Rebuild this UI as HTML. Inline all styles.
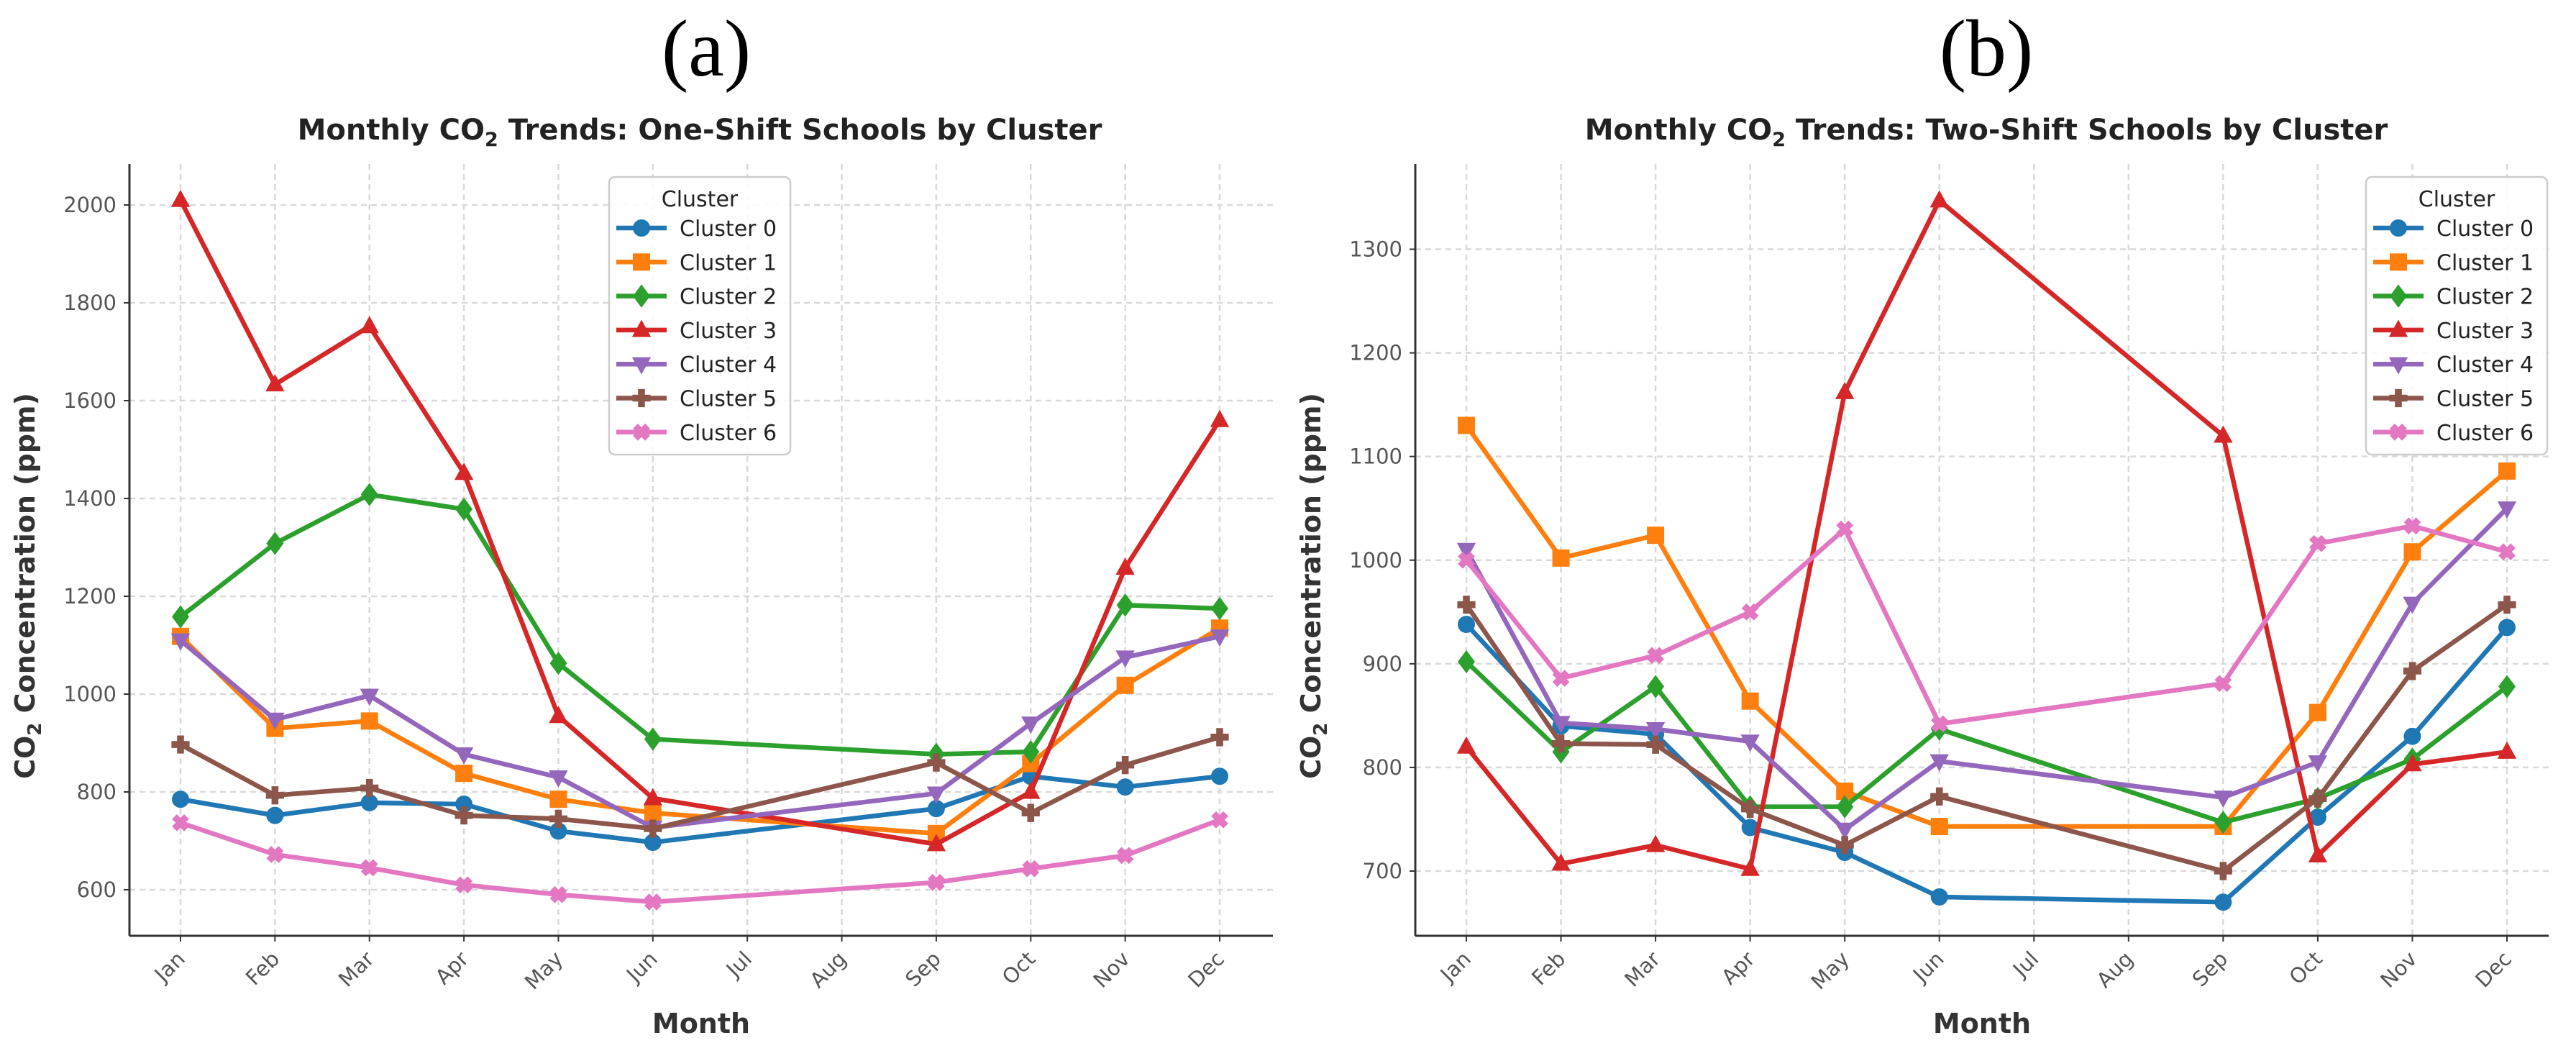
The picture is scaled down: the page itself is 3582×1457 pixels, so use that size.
<!DOCTYPE html>
<html><head><meta charset="utf-8"><style>
html,body{margin:0;padding:0;background:#fff}
svg{display:block;font-family:"DejaVu Sans","Liberation Sans",sans-serif}
</style></head><body>
<svg id="fig" width="3582" height="1457" viewBox="0 0 3582 1457" xmlns="http://www.w3.org/2000/svg">
<text x="982" y="105" font-family="Liberation Serif,serif" font-size="112" text-anchor="middle">(a)</text>
<text x="2762" y="105" font-family="Liberation Serif,serif" font-size="112" text-anchor="middle">(b)</text>
</svg>
<script>
const months=["Jan","Feb","Mar","Apr","May","Jun","Jul","Aug","Sep","Oct","Nov","Dec"];
const clusterNames=["Cluster 0","Cluster 1","Cluster 2","Cluster 3","Cluster 4","Cluster 5","Cluster 6"];
const colors=["#1f77b4","#ff7f0e","#2ca02c","#d62728","#9467bd","#8c564b","#e377c2"];
const markers=["circle","square","diamond","tri-up","tri-down","plus","x"];
const oneC0=[785,752,778,775,720,697,null,null,766,832,810,832];
const oneC1=[1118,930,945,838,785,757,null,null,715,858,1018,1135];
const oneC2=[1158,1308,1408,1378,1063,908,null,null,877,882,1182,1175];
const oneC3=[2010,1633,1752,1452,955,787,null,null,693,800,1258,1560];
const oneC4=[1110,948,997,877,830,727,null,null,797,940,1075,1118];
const oneC5=[897,793,808,752,745,725,null,null,860,757,855,912];
const oneC6=[737,672,645,610,590,575,null,null,615,643,670,743];
const twoC0=[938,840,832,742,718,675,null,null,670,752,830,935];
const twoC1=[1130,1002,1024,864,777,743,null,null,743,853,1008,1086];
const twoC2=[902,815,878,762,762,837,null,null,747,770,808,878];
const twoC3=[820,707,725,702,1162,1347,null,null,1120,715,803,815];
const twoC4=[1010,843,837,825,740,806,null,null,771,805,958,1050];
const twoC5=[957,823,822,760,725,772,null,null,700,770,893,957];
const twoC6=[1000,886,908,950,1030,842,null,null,881,1016,1033,1008];
const oneTicks=[600,800,1000,1200,1400,1600,1800,2000];
const twoTicks=[700,800,900,1000,1100,1200,1300];

const NS="http://www.w3.org/2000/svg";
const svg=document.getElementById('fig');
function mk(tag,attrs,parent){const e=document.createElementNS(NS,tag);for(const k in attrs)e.setAttribute(k,attrs[k]);(parent||svg).appendChild(e);return e;}

function marker(g,type,x,y,c,s){
  let e;
  if(type==="circle")e=mk('circle',{cx:x,cy:y,r:s},g);
  else if(type==="square")e=mk('rect',{x:x-s,y:y-s,width:2*s,height:2*s},g);
  else if(type==="diamond")e=mk('polygon',{points:`${x},${y-s*1.35} ${x+s},${y} ${x},${y+s*1.35} ${x-s},${y}`},g);
  else if(type==="tri-up")e=mk('polygon',{points:`${x},${y-s*1.2} ${x+s*1.1},${y+s*0.8} ${x-s*1.1},${y+s*0.8}`},g);
  else if(type==="tri-down")e=mk('polygon',{points:`${x},${y+s*1.2} ${x+s*1.1},${y-s*0.8} ${x-s*1.1},${y-s*0.8}`},g);
  else if(type==="plus"){const a=s*0.4,b=s*1.05;e=mk('polygon',{points:`${x-a},${y-b} ${x+a},${y-b} ${x+a},${y-a} ${x+b},${y-a} ${x+b},${y+a} ${x+a},${y+a} ${x+a},${y+b} ${x-a},${y+b} ${x-a},${y+a} ${x-b},${y+a} ${x-b},${y-a} ${x-a},${y-a}`},g);}
  else {const a=s*0.4,b=s*1.0;e=mk('g',{transform:`translate(${x},${y}) rotate(45)`},g);
    mk('polygon',{points:`${-a},${-b} ${a},${-b} ${a},${-a} ${b},${-a} ${b},${a} ${a},${a} ${a},${b} ${-a},${b} ${-a},${a} ${-b},${a} ${-b},${-a} ${-a},${-a}`,fill:c},e);}
  e.setAttribute('fill',c);
  return e;
}

function panel(cfg){
  const g=mk('g',{});
  
  
  const xs=i=>cfg.x0+(cfg.x1-cfg.x0)*i/11;
  const ys=v=>cfg.yA+(v-cfg.vA)*(cfg.yB-cfg.yA)/(cfg.vB-cfg.vA);
  // grid
  months.forEach((m,i)=>{const l=mk('line',{x1:xs(i),x2:xs(i),y1:cfg.top,y2:cfg.bottom,stroke:"#d9d9d9","stroke-width":2.5,"stroke-dasharray":"8 6"},g);
    });
  cfg.ticks.forEach(v=>{const l=mk('line',{x1:cfg.left,x2:cfg.right,y1:ys(v),y2:ys(v),stroke:"#d9d9d9","stroke-width":2.5,"stroke-dasharray":"8 6"},g);
    });
  // axes
  const ya=mk('line',{x1:cfg.left,x2:cfg.left,y1:cfg.top,y2:cfg.bottom,stroke:"#333","stroke-width":3},g);
  
  const xa=mk('line',{x1:cfg.left,x2:cfg.right,y1:cfg.bottom,y2:cfg.bottom,stroke:"#333","stroke-width":3},g);
  
  cfg.ticks.forEach(v=>{mk('line',{x1:cfg.left-8,x2:cfg.left,y1:ys(v),y2:ys(v),stroke:"#333","stroke-width":2},g);
    const t=mk('text',{x:cfg.left-18,y:ys(v)+10,"text-anchor":"end","font-size":29,fill:"#555"},g);t.textContent=v;
    });
  months.forEach((m,i)=>{mk('line',{x1:xs(i),x2:xs(i),y1:cfg.bottom,y2:cfg.bottom+8,stroke:"#333","stroke-width":2},g);
    const t=mk('text',{x:xs(i)+8,y:cfg.bottom+34,"text-anchor":"end","font-size":29,fill:"#555",transform:`rotate(-45 ${xs(i)+8} ${cfg.bottom+34})`},g);t.textContent=m;
    });
  // titles
  const tt=mk('text',{x:cfg.tx,y:194,"text-anchor":"middle","font-size":40,"font-weight":"bold",fill:"#222"},g);
  tt.innerHTML=`Monthly CO<tspan font-size="27" dy="9">2</tspan><tspan dy="-9"> Trends: ${cfg.title}</tspan>`;
  
  const xl=mk('text',{x:(cfg.left+cfg.right)/2,y:1436,"text-anchor":"middle","font-size":38,"font-weight":"bold",fill:"#333"},g);xl.textContent="Month";
  
  const yx=cfg.left-132,yy=(cfg.top+cfg.bottom)/2+50;
  const yl=mk('text',{x:yx,y:yy,"text-anchor":"middle","font-size":38,"font-weight":"bold",fill:"#333",transform:`rotate(-90 ${yx} ${yy})`},g);
  yl.innerHTML=`CO<tspan font-size="26" dy="9">2</tspan><tspan dy="-9"> Concentration (ppm)</tspan>`;
  
  // series
  cfg.series.forEach((arr,k)=>{
    const sg=mk('g',{},g);
    
    
    const pts=[];arr.forEach((v,i)=>{if(v!==null)pts.push([xs(i),ys(v)]);});
    mk('polyline',{points:pts.map(p=>p.join(',')).join(' '),fill:"none",stroke:colors[k],"stroke-width":6.5,"stroke-linejoin":"round"},sg);
    pts.forEach(p=>{const m=marker(sg,markers[k],p[0],p[1],colors[k],12);
      });
  });
  // legend
  const lg=mk('g',{},g);
  
  
  mk('rect',{x:cfg.lx,y:246,width:252,height:386,rx:8,fill:"#fff","fill-opacity":0.85,stroke:"#ccc","stroke-width":2.5},lg);
  const lt=mk('text',{x:cfg.lx+126,y:287,"text-anchor":"middle","font-size":30,fill:"#222"},lg);lt.textContent="Cluster";
  
  clusterNames.forEach((n,k)=>{
    const y=317+k*47.3;
    const e=mk('g',{},lg);
    
    
    mk('line',{x1:cfg.lx+10,x2:cfg.lx+80,y1:y,y2:y,stroke:colors[k],"stroke-width":6.5},e);
    marker(e,markers[k],cfg.lx+45,y,colors[k],12);
    const t=mk('text',{x:cfg.lx+98,y:y+11,"font-size":30,fill:"#222"},e);t.textContent=n;
  });
}
panel({name:'chart-one-shift',title:'One-Shift Schools by Cluster',tx:973,left:180,right:1770,top:228,bottom:1301,x0:251,x1:1696,vA:600,yA:1237,vB:2000,yB:285,ticks:oneTicks,lx:847,
  series:[oneC0,oneC1,oneC2,oneC3,oneC4,oneC5,oneC6]});
panel({name:'chart-two-shift',title:'Two-Shift Schools by Cluster',tx:2762,left:1968,right:3544,top:228,bottom:1301,x0:2039,x1:3486,vA:700,yA:1211,vB:1300,yB:346.5,ticks:twoTicks,lx:3290,
  series:[twoC0,twoC1,twoC2,twoC3,twoC4,twoC5,twoC6]});
</script>
</body></html>
